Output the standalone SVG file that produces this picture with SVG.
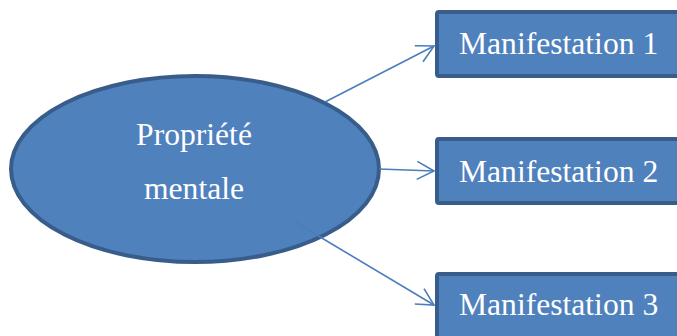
<svg xmlns="http://www.w3.org/2000/svg" width="677" height="336" viewBox="0 0 677 336">
<style>
.node{fill:#4F81BD;stroke:#385D8A;stroke-width:4}
.lbl{font-family:"Liberation Serif","Times New Roman",serif;font-size:31.6px;fill:#FFFFFF}
.conn{stroke:#4A7EBB;stroke-width:1.6;fill:none}
</style>
<defs>
<marker id="arr" markerUnits="userSpaceOnUse" viewBox="-19 -11 21 22" refX="0" refY="0" markerWidth="21" markerHeight="22" orient="auto">
<path d="M-17,-9 L0,0 L-17,9" fill="none" stroke="#4A7EBB" stroke-width="1.6"/>
</marker>
</defs>
<rect width="677" height="336" fill="#FFFFFF"/>
<g id="prop">
<ellipse class="node" cx="195" cy="169" rx="184" ry="93"/>
<text class="lbl" x="194" y="145" text-anchor="middle">Propriété</text>
<text class="lbl" x="194" y="199" text-anchor="middle">mentale</text>
</g>
<g id="m1">
<rect class="node" x="437" y="12" width="260" height="64" rx="2"/>
<text class="lbl" x="459" y="54">Manifestation 1</text>
</g>
<g id="m2">
<rect class="node" x="437" y="139" width="260" height="64" rx="2"/>
<text class="lbl" x="459" y="182">Manifestation 2</text>
</g>
<g id="m3">
<rect class="node" x="437" y="274" width="260" height="64" rx="2"/>
<text class="lbl" x="459" y="315">Manifestation 3</text>
</g>
<g id="connectors">
<line class="conn" x1="325" y1="102" x2="434" y2="46" marker-end="url(#arr)"/>
<line class="conn" x1="379" y1="169" x2="434" y2="171" marker-end="url(#arr)"/>
<line class="conn" x1="295" y1="222" x2="434" y2="305" marker-end="url(#arr)"/>
</g>
</svg>
